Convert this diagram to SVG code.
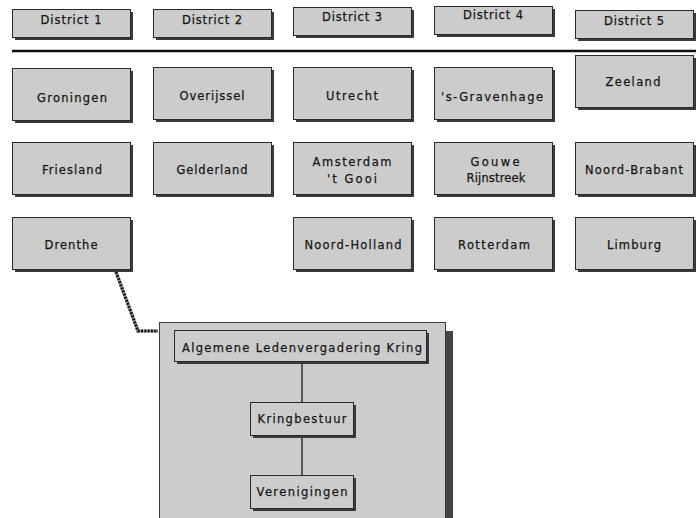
<svg xmlns="http://www.w3.org/2000/svg" width="696" height="518" viewBox="0 0 696 518">
<style>
.bx{fill:#cccccc;stroke:#2a2a2a;stroke-width:1}
.sh{fill:#3a3a3a}
.t{font-family:"DejaVu Sans","Liberation Sans",Arial,sans-serif;font-size:11.5px;fill:#161616;stroke:#161616;stroke-width:0.25px;text-anchor:middle}
.ln{stroke:#1a1a1a;stroke-width:1.3;fill:none}
</style>
<defs>
<g id="b">
<rect class="sh" x="3" y="3" width="118" height="52"/>
<rect class="bx" x="0.5" y="0.5" width="118" height="52"/>
</g>
<g id="d">
<rect class="sh" x="3" y="3" width="118" height="28"/>
<rect class="bx" x="0.5" y="0.5" width="118" height="28"/>
</g>
</defs>
<rect width="696" height="518" fill="#ffffff"/>

<g id="district1"><use href="#d" x="12" y="9"/><text class="t" x="71" y="24" textLength="61">District 1</text></g>
<g id="district2"><use href="#d" x="153" y="9"/><text class="t" x="212" y="24" textLength="60">District 2</text></g>
<g id="district3"><use href="#d" x="293" y="7"/><text class="t" x="352" y="21" textLength="60">District 3</text></g>
<g id="district4"><use href="#d" x="434" y="6"/><text class="t" x="493" y="19" textLength="60">District 4</text></g>
<g id="district5"><use href="#d" x="575" y="10"/><text class="t" x="634" y="25" textLength="60">District 5</text></g>

<line x1="12" y1="51" x2="696" y2="51" stroke="#111" stroke-width="2.5"/>

<g id="groningen"><use href="#b" x="12" y="68"/><text class="t" x="72" y="102" textLength="70">Groningen</text></g>
<g id="overijssel"><use href="#b" x="153" y="67"/><text class="t" x="212" y="100" textLength="65">Overijssel</text></g>
<g id="utrecht"><use href="#b" x="293" y="67"/><text class="t" x="352" y="100" textLength="52">Utrecht</text></g>
<g id="gravenhage"><use href="#b" x="434" y="67"/><text class="t" x="492" y="101" textLength="102">'s-Gravenhage</text></g>
<g id="zeeland"><use href="#b" x="575" y="55"/><text class="t" x="633" y="86" textLength="55">Zeeland</text></g>

<g id="friesland"><use href="#b" x="12" y="142"/><text class="t" x="72" y="174" textLength="60">Friesland</text></g>
<g id="gelderland"><use href="#b" x="153" y="142"/><text class="t" x="212" y="174" textLength="71">Gelderland</text></g>
<g id="amsterdam"><use href="#b" x="293" y="142"/><text class="t" x="352" y="166" textLength="79">Amsterdam</text><text class="t" x="352" y="183" textLength="50">'t Gooi</text></g>
<g id="gouwe"><use href="#b" x="434" y="142"/><text class="t" x="495" y="166" textLength="49">Gouwe</text><text class="t" x="496" y="182" textLength="59">Rijnstreek</text></g>
<g id="noordbrabant"><use href="#b" x="575" y="142"/><text class="t" x="634" y="174" textLength="98">Noord-Brabant</text></g>

<g id="drenthe"><use href="#b" x="12" y="217"/><text class="t" x="71" y="249" textLength="53">Drenthe</text></g>
<g id="noordholland"><use href="#b" x="293" y="217"/><text class="t" x="353" y="249" textLength="97">Noord-Holland</text></g>
<g id="rotterdam"><use href="#b" x="434" y="217"/><text class="t" x="494" y="249" textLength="72">Rotterdam</text></g>
<g id="limburg"><use href="#b" x="575" y="217"/><text class="t" x="634" y="249" textLength="54">Limburg</text></g>

<g id="panel">
<rect x="446" y="331" width="7" height="190" fill="#444"/>
<rect x="159.5" y="322.5" width="286" height="200" fill="#cccccc" stroke="#3a3a3a" stroke-width="1"/>
</g>

<g id="connectors">
<polyline points="116,272 138,331 158,331" fill="none" stroke="#9a9a9a" stroke-width="3.2"/>
<polyline points="116,272 138,331 158,331" fill="none" stroke="#1a1a1a" stroke-width="3.2" stroke-dasharray="2 1.3"/>
<line class="ln" x1="302" y1="361" x2="302" y2="402"/>
<line class="ln" x1="302" y1="435" x2="302" y2="475"/>
</g>

<g id="alk">
<rect class="sh" x="177" y="333" width="252" height="31"/>
<rect class="bx" x="174.5" y="330.5" width="252" height="31"/>
<text class="t" x="302" y="352" textLength="240">Algemene Ledenvergadering Kring</text>
</g>
<g id="kringbestuur">
<rect class="sh" x="253" y="405" width="103" height="33"/>
<rect class="bx" x="250.5" y="402.5" width="103" height="33"/>
<text class="t" x="302" y="423" textLength="89">Kringbestuur</text>
</g>
<g id="verenigingen">
<rect class="sh" x="253" y="478" width="103" height="33"/>
<rect class="bx" x="250.5" y="475.5" width="103" height="33"/>
<text class="t" x="302" y="496" textLength="91">Verenigingen</text>
</g>
</svg>
